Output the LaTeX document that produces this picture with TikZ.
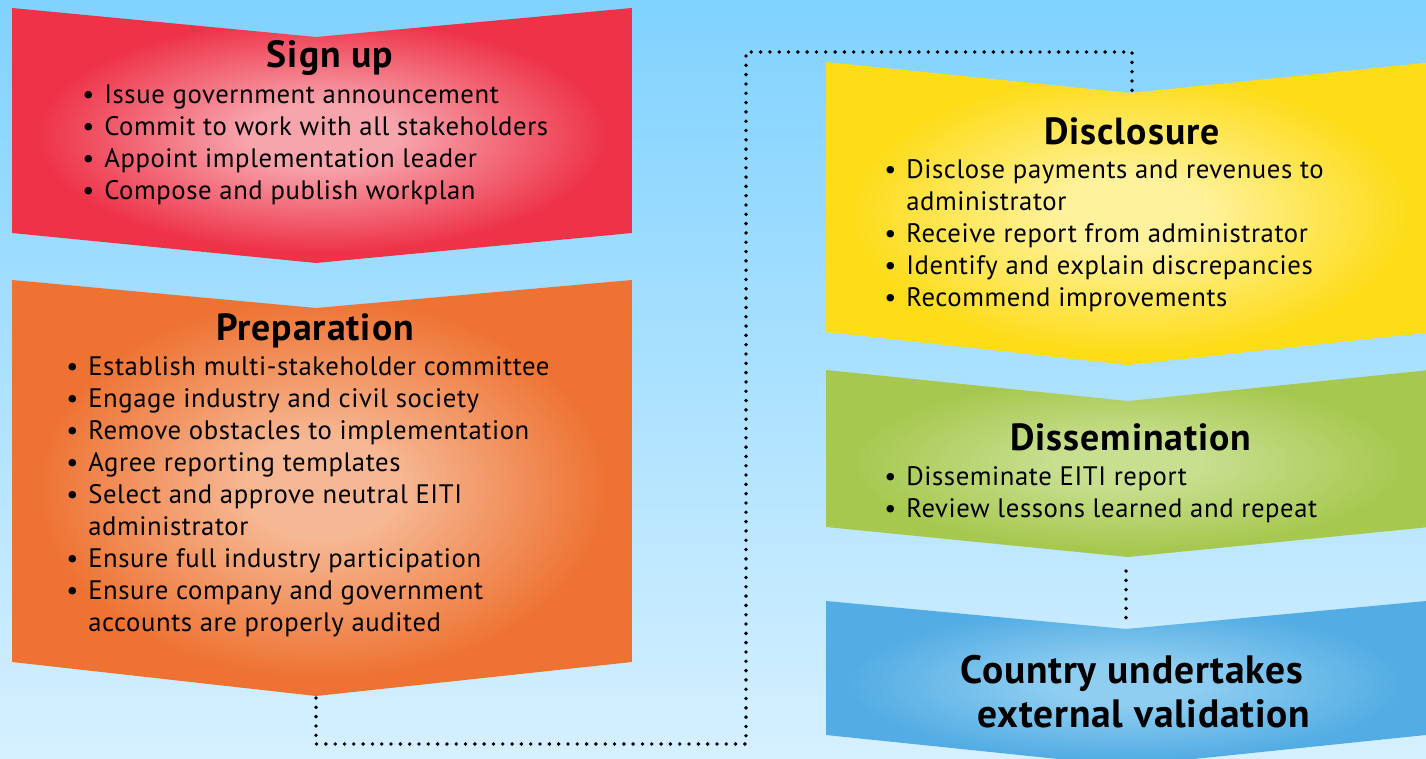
\documentclass[tikz,border=0pt]{standalone}
\usepackage{fontspec}
\setmainfont{PT Sans}
\definecolor{bgtop}{HTML}{80D2FF}
\definecolor{bgbot}{HTML}{D6F0FF}
\definecolor{redO}{HTML}{EE3248}
\definecolor{redI}{HTML}{F7A5AD}
\definecolor{orgO}{HTML}{EE7232}
\definecolor{orgI}{HTML}{F6B894}
\definecolor{yelO}{HTML}{FDDC18}
\definecolor{yelI}{HTML}{FFF29C}
\definecolor{grnO}{HTML}{A6C84F}
\definecolor{grnI}{HTML}{C8DF90}
\definecolor{bluO}{HTML}{53ADE4}
\definecolor{bluI}{HTML}{90CEF1}
\pgfdeclareradialshading{glowred}{\pgfpointorigin}{color(0bp)=(redI); color(6bp)=(redI); color(23bp)=(redO); color(50bp)=(redO)}
\pgfdeclareradialshading{gloworg}{\pgfpointorigin}{color(0bp)=(orgI); color(6bp)=(orgI); color(23bp)=(orgO); color(50bp)=(orgO)}
\pgfdeclareradialshading{glowyel}{\pgfpointorigin}{color(0bp)=(yelI); color(6bp)=(yelI); color(23bp)=(yelO); color(50bp)=(yelO)}
\pgfdeclareradialshading{glowgrn}{\pgfpointorigin}{color(0bp)=(grnI); color(6bp)=(grnI); color(23bp)=(grnO); color(50bp)=(grnO)}
\pgfdeclareradialshading{glowblu}{\pgfpointorigin}{color(0bp)=(bluI); color(6bp)=(bluI); color(23bp)=(bluO); color(50bp)=(bluO)}
\newcommand\bl[1]{\hbox{\makebox[12.5pt][l]{•}#1}}
\newcommand\cl[1]{\hbox{\hspace*{12.5pt}#1}}
\tikzset{
  titletext/.style={inner sep=0pt, anchor=base, font=\fontsize{21.5}{25}\selectfont\bfseries\addfontfeatures{LetterSpace=2.5}},
  bigtext/.style={inner sep=0pt, anchor=base, font=\fontsize{22.5}{26}\selectfont\bfseries\addfontfeatures{LetterSpace=2}},
  listtext/.style={inner sep=0pt, anchor=base west, font=\fontsize{15.2}{18.2}\selectfont\addfontfeatures{LetterSpace=2.2}},
  dotline/.style={line width=2.2pt, dash pattern=on 0pt off 5.3pt, line cap=round, black}
}
\begin{document}
\begin{tikzpicture}[x=0.02cm, y=-0.02cm]
\path[use as bounding box] (0,0) rectangle (1426,759);
\clip (0,0) rectangle (1426,759);
\shade[top color=bgtop, bottom color=bgbot] (0,0) rectangle (1426,759);
% shapes
\shade[shading=glowred] (12,8) -- (316,37) -- (632,8) -- (632,233) -- (316,263) -- (12,233) -- cycle;
\shade[shading=gloworg] (12,280) -- (316,308) -- (632,280) -- (632,662) -- (316,696) -- (12,662) -- cycle;
\shade[shading=glowyel] (826,62) -- (1130,93) -- (1434,62) -- (1434,332) -- (1128,365) -- (826,332) -- cycle;
\shade[shading=glowgrn] (826,370) -- (1128,401) -- (1430,370) -- (1430,527) -- (1128,557) -- (826,527) -- cycle;
\shade[shading=glowblu] (826,601) -- (1126,629) -- (1426,601) -- (1426,735) -- (1126,766) -- (826,735) -- cycle;
% connector points
\coordinate (prepbot) at (316,698);
\coordinate (loopL) at (746,744);
\coordinate (loopT) at (1132,52);
\coordinate (discnotch) at (1132,92);
\coordinate (dissbot) at (1126,557);
\coordinate (ctrynotch) at (1126,629);
% texts
\node[titletext] (t1) at (330,68) {Sign up};
\node[listtext] (l1) at (82,104) {\vtop{\bl{Issue government announcement}\bl{Commit to work with all stakeholders}\bl{Appoint implementation leader}\bl{Compose and publish workplan}}};
\node[titletext] (t2) at (315,341) {Preparation};
\node[listtext] (l2) at (66,376) {\vtop{\bl{Establish multi-stakeholder committee}\bl{Engage industry and civil society}\bl{Remove obstacles to implementation}\bl{Agree reporting templates}\bl{Select and approve neutral EITI}\cl{administrator}\bl{Ensure full industry participation}\bl{Ensure company and government}\cl{accounts are properly audited}}};
\node[titletext] (t3) at (1132,145) {Disclosure};
\node[listtext] (l3) at (884,179) {\vtop{\bl{Disclose payments and revenues to}\cl{administrator}\bl{Receive report from administrator}\bl{Identify and explain discrepancies}\bl{Recommend improvements}}};
\node[titletext] (t4) at (1131,451) {Dissemination};
\node[listtext] (l4) at (884,486) {\vtop{\bl{Disseminate EITI report}\bl{Review lessons learned and repeat}}};
\node[bigtext] (c1) at (1132,683) {Country undertakes};
\node[bigtext] (c2) at (1144,727) {external validation};
% connectors
\draw[dotline] (prepbot) |- (loopL) |- (loopT) -- (discnotch);
\draw[dotline, shorten <=8pt, shorten >=3pt] (dissbot) -- (ctrynotch);
\end{tikzpicture}
\end{document}
